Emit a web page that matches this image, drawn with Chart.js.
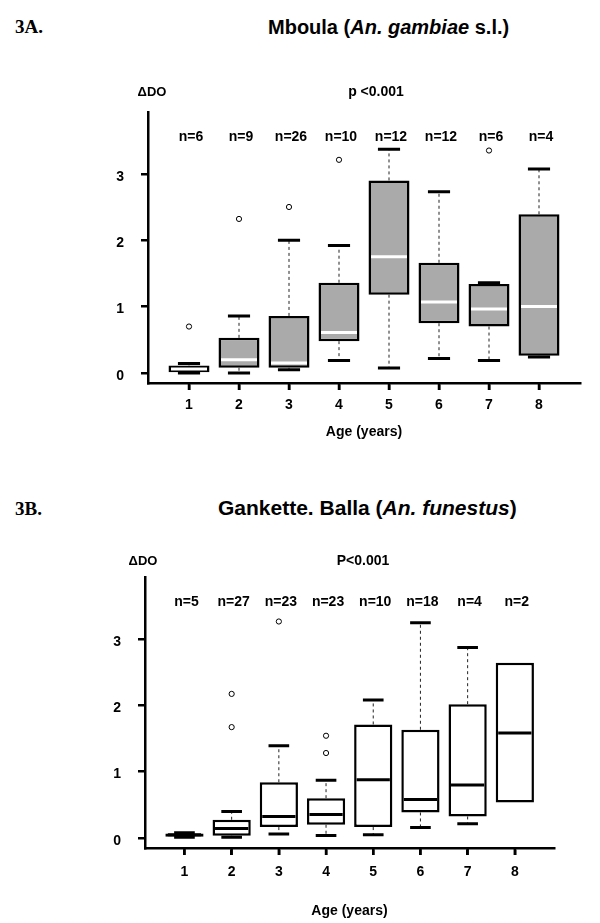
<!DOCTYPE html>
<html>
<head>
<meta charset="utf-8">
<script src="https://cdn.jsdelivr.net/npm/chart.js@4.4.0/dist/chart.umd.min.js"></script>
<style>
  body { margin: 0; background: #fff; }
  #page { position: relative; width: 600px; height: 923px; overflow: hidden; font-family: 'Liberation Sans', Arial, sans-serif; }
  .fig { position: absolute; left: 15px; font-family: 'Liberation Serif', 'Times New Roman', serif; font-weight: bold; font-size: 19px; line-height: 24px; }
  .title { position: absolute; font-weight: bold; font-size: 20px; line-height: 24px; white-space: nowrap; }
  .wrap { position: absolute; left: 0; width: 600px; }
</style>
</head>
<body>
<div id="page">
  <div class="fig" style="top:15px">3A.</div>
  <div class="title" style="top:15px; left:268px">Mboula (<i>An. gambiae</i> s.l.)</div>
  <div class="wrap" style="top:0; height:460px"><canvas id="chartA" width="600" height="460"></canvas></div>

  <div class="fig" style="top:497px">3B.</div>
  <div class="title" style="top:496px; left:218px; font-size:21px">Gankette. Balla (<i>An. funestus</i>)</div>
  <div class="wrap" style="top:460px; height:463px"><canvas id="chartB" width="600" height="463"></canvas></div>
</div>
<script>
// shared axes
const ages = [1, 2, 3, 4, 5, 6, 7, 8];
const yTicks = [0, 1, 2, 3];

// 3A. Mboula (An. gambiae s.l.)
const mbN = [6, 9, 26, 10, 12, 12, 6, 4];
const mbQ1 = [0.01, 0.08, 0.08, 0.48, 1.18, 0.75, 0.70, 0.26];
const mbQ3 = [0.115, 0.53, 0.86, 1.36, 2.90, 1.66, 1.34, 2.39];
const mbMed = [0.06, 0.20, 0.15, 0.61, 1.75, 1.07, 0.965, 1.00];
const mbLo = [0.0, 0.0, 0.05, 0.19, 0.076, 0.22, 0.19, 0.24];
const mbHi = [0.145, 0.86, 2.00, 1.92, 3.37, 2.73, 1.36, 3.07];
const mbOutAge = [1, 2, 3, 4, 7];
const mbOutVal = [0.70, 2.32, 2.50, 3.21, 3.35];

// 3B. Gankette. Balla (An. funestus)
const gbN = [5, 27, 23, 23, 10, 18, 4, 2];
const gbQ1 = [0.02, 0.035, 0.165, 0.20, 0.165, 0.385, 0.325, 0.535];
const gbQ3 = [0.07, 0.275, 0.84, 0.60, 1.71, 1.63, 2.015, 2.64];
const gbMed = [0.05, 0.145, 0.325, 0.355, 0.877, 0.58, 0.80, 1.58];
const gbLo = [0.01, 0.01, 0.06, 0.04, 0.05, 0.16, 0.215, 0.535];
const gbHi = [0.08, 0.40, 1.39, 0.87, 2.08, 3.24, 2.87, 2.64];
const gbOutAge = [2, 2, 3, 4, 4];
const gbOutVal = [2.17, 1.67, 3.26, 1.54, 1.28];

const FONT = "'Liberation Sans', Arial, sans-serif";

// whiskers, medians and the text round each plot
const boxExtras = {
    id: 'boxExtras',
    afterDatasetsDraw(chart, args, o) {
        const { ctx } = chart;
        const y = chart.scales.y;
        const bars = chart.getDatasetMeta(0).data;
        ctx.save();
        bars.forEach((bar, i) => {
            const cx = bar.x, half = bar.width / 2, cap = bar.width * 0.27;
            const top = y.getPixelForValue(o.q3[i]);
            const bot = y.getPixelForValue(o.q1[i]);
            const hi = y.getPixelForValue(o.hi[i]);
            const lo = y.getPixelForValue(o.lo[i]);

            ctx.setLineDash([3, 3]);
            ctx.lineWidth = 1;
            ctx.strokeStyle = '#222';
            ctx.beginPath();
            if (o.hi[i] > o.q3[i]) { ctx.moveTo(cx, top); ctx.lineTo(cx, hi); }
            if (o.lo[i] < o.q1[i]) { ctx.moveTo(cx, bot); ctx.lineTo(cx, lo); }
            ctx.stroke();

            ctx.setLineDash([]);
            ctx.lineWidth = 3;
            ctx.strokeStyle = '#000';
            ctx.beginPath();
            if (o.hi[i] > o.q3[i]) { ctx.moveTo(cx - cap, hi); ctx.lineTo(cx + cap, hi); }
            if (o.lo[i] < o.q1[i]) { ctx.moveTo(cx - cap, lo); ctx.lineTo(cx + cap, lo); }
            ctx.stroke();

            // median
            const med = y.getPixelForValue(o.med[i]);
            ctx.strokeStyle = o.medianColor;
            ctx.lineWidth = 3;
            ctx.beginPath();
            ctx.moveTo(cx - half + 2.5, med);
            ctx.lineTo(cx + half - 2.5, med);
            ctx.stroke();

            // n=...
            ctx.fillStyle = '#000';
            ctx.font = `bold 14px ${FONT}`;
            ctx.textAlign = 'center';
            ctx.textBaseline = 'middle';
            ctx.fillText('n=' + o.n[i], cx + 2, y.getPixelForValue(3.55));
        });

        const area = chart.chartArea;
        ctx.font = `bold 13px ${FONT}`;
        ctx.fillText('\u0394DO', area.left + o.dDO[0], area.top + o.dDO[1]);
        ctx.font = `bold 14px ${FONT}`;
        ctx.fillText(o.pText, o.pPos[0], o.pPos[1]);
        ctx.restore();
    },
    afterDraw(chart) {
        // tick marks under each age
        const { ctx, chartArea } = chart;
        const x = chart.scales.x;
        ctx.save();
        ctx.strokeStyle = '#000';
        ctx.lineWidth = 2.5;
        ctx.beginPath();
        x.ticks.forEach(t => {
            const px = x.getPixelForValue(t.value);
            ctx.moveTo(px, chartArea.bottom);
            ctx.lineTo(px, chartArea.bottom + 7);
        });
        ctx.stroke();
        ctx.restore();
    }
};

function makeChart(id, cfg) {
    const axisFont = { family: FONT, size: 14, weight: 'bold' };
    const grid = { drawOnChartArea: false, offset: false, color: '#000', tickColor: '#000', lineWidth: 2.5, tickLength: 7 };
    const border = { display: true, color: '#000', width: 2.5 };

    return new Chart(document.getElementById(id), {
        type: 'bar',
        data: {
            datasets: [
                {
                    type: 'bar',
                    data: ages.map((a, i) => ({ x: a, y: [cfg.q1[i], cfg.q3[i]] })),
                    backgroundColor: cfg.fills,
                    borderColor: '#000',
                    borderWidth: 2.5,
                    borderSkipped: false,
                    categoryPercentage: 1,
                    barPercentage: cfg.barPct,
                    order: 2
                },
                {
                    type: 'scatter',
                    data: cfg.outAge.map((a, i) => ({ x: a, y: cfg.outVal[i] })),
                    pointRadius: 2.6,
                    pointBorderWidth: 1,
                    pointBorderColor: '#000',
                    pointBackgroundColor: '#fff',
                    order: 1
                }
            ]
        },
        options: {
            responsive: false,
            animation: false,
            layout: { padding: cfg.padding },
            plugins: {
                legend: { display: false },
                tooltip: { enabled: false },
                boxExtras: {
                    q1: cfg.q1, q3: cfg.q3, med: cfg.med, lo: cfg.lo, hi: cfg.hi, n: cfg.n,
                    medianColor: cfg.medianColor,
                    dDO: cfg.dDO, pText: cfg.pText, pPos: cfg.pPos
                }
            },
            scales: {
                x: {
                    type: 'linear',
                    min: cfg.xMin,
                    max: cfg.xMax,
                    offset: false,
                    afterFit: s => { s.height = cfg.xHeight; },
                    afterBuildTicks: s => { s.ticks = ages.map(v => ({ value: v })); },
                    border: border,
                    grid: grid,
                    ticks: { color: '#000', font: axisFont, padding: cfg.xPad },
                    title: {
                        display: true,
                        text: 'Age (years)',
                        color: '#000',
                        font: axisFont,
                        padding: { top: 0, bottom: cfg.titlePad }
                    }
                },
                y: {
                    min: -0.15,
                    max: 3.93,
                    afterFit: s => { s.width = cfg.yWidth; },
                    afterBuildTicks: s => { s.ticks = yTicks.map(v => ({ value: v })); },
                    border: border,
                    grid: grid,
                    ticks: { color: '#000', font: axisFont, padding: 17, labelOffset: 3 }
                }
            }
        },
        plugins: [boxExtras]
    });
}

makeChart('chartA', {
    q1: mbQ1, q3: mbQ3, med: mbMed, lo: mbLo, hi: mbHi, n: mbN,
    outAge: mbOutAge, outVal: mbOutVal,
    fills: ['#fff', '#aaa', '#aaa', '#aaa', '#aaa', '#aaa', '#aaa', '#aaa'],
    medianColor: '#fff',
    barPct: 0.82,
    xMin: 0.18, xMax: 8.82,
    padding: { top: 112, right: 20, bottom: 7, left: 0 },
    xHeight: 70, xPad: 7, titlePad: 12, yWidth: 148,
    dDO: [4, -20], pText: 'p <0.001', pPos: [376, 92]
});

makeChart('chartB', {
    q1: gbQ1, q3: gbQ3, med: gbMed, lo: gbLo, hi: gbHi, n: gbN,
    outAge: gbOutAge, outVal: gbOutVal,
    fills: '#fff',
    medianColor: '#000',
    barPct: 0.81,
    xMin: 0.164, xMax: 8.83,
    padding: { top: 117, right: 46, bottom: 0, left: 0 },
    xHeight: 75, xPad: 9, titlePad: 3, yWidth: 145,
    dDO: [-2, -16], pText: 'P<0.001', pPos: [363, 101]
});
</script>
</body>
</html>
